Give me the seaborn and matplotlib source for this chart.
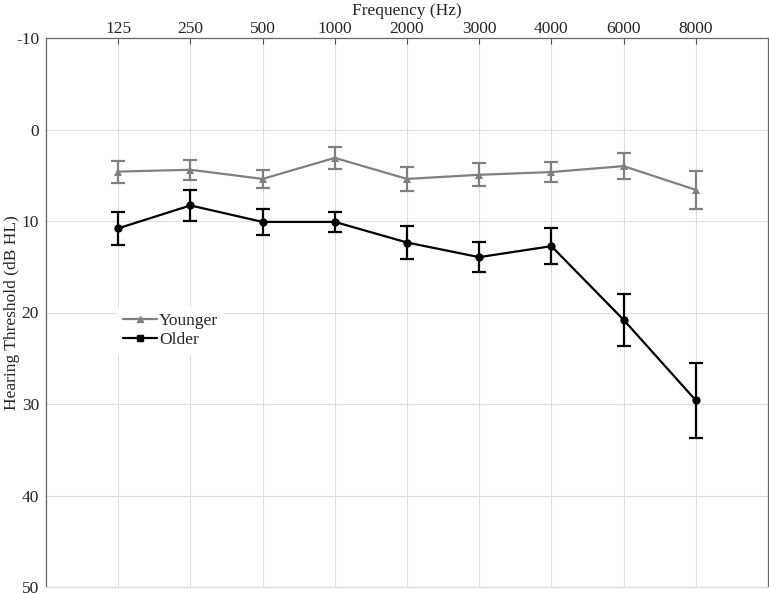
import pandas as pd
import numpy as np
import matplotlib
matplotlib.use("Agg")
import matplotlib.pyplot as plt
import seaborn as sns
from matplotlib.lines import Line2D

# audiogram values
freqs = ["125", "250", "500", "1000", "2000", "3000", "4000", "6000", "8000"]
younger_mean = [4.6, 4.4, 5.4, 3.1, 5.4, 4.95, 4.65, 4.0, 6.6]
younger_err = [1.2, 1.1, 1.0, 1.2, 1.35, 1.25, 1.1, 1.4, 2.1]
older_mean = [10.8, 8.3, 10.1, 10.1, 12.35, 13.95, 12.75, 20.8, 29.6]
older_err = [1.8, 1.65, 1.4, 1.05, 1.75, 1.65, 1.95, 2.85, 4.1]

sns.set_style("white")
plt.rcParams['font.family'] = ['Liberation Serif', 'DejaVu Serif']
plt.rcParams['axes.unicode_minus'] = False

df = pd.DataFrame({
    "freq": freqs * 2,
    "thr": younger_mean + older_mean,
    "err": younger_err + older_err,
    "group": ["Younger"] * len(freqs) + ["Older"] * len(freqs),
})

fig = plt.figure(figsize=(7.69, 5.93), dpi=100)
ax = fig.add_axes([46 / 769, 6 / 593, 722 / 769, 549 / 593])

colors = {"Younger": "#808080", "Older": "#000000"}
markers = {"Younger": "^", "Older": "o"}

sns.lineplot(data=df, x="freq", y="thr", hue="group", palette=colors,
             style="group", markers=markers, dashes=False, markersize=6,
             markeredgewidth=0, linewidth=1.6, sort=False, legend=False, ax=ax)

xpos = np.arange(len(freqs))
for g, m, e in [("Younger", younger_mean, younger_err), ("Older", older_mean, older_err)]:
    ax.errorbar(xpos, m, yerr=e, fmt="none", ecolor=colors[g], elinewidth=1.6,
                capsize=5, capthick=1.6, zorder=3)

fs = 12.5
ax.set_xlim(-1, 9)
ax.set_ylim(50, -10)
ax.set_yticks(range(-10, 51, 10))
ax.set_xticks(xpos)
ax.set_xticklabels(freqs)
ax.xaxis.tick_top()
ax.xaxis.set_label_position("top")
ax.set_xlabel("Frequency (Hz)", fontsize=fs, labelpad=4)
ax.set_ylabel("Hearing Threshold (dB HL)", fontsize=fs)
ax.yaxis.set_label_coords(-0.036, 0.5)
ax.tick_params(axis="both", labelsize=fs, length=4, color="#555555", pad=1)
ax.tick_params(axis="x", direction="in")
ax.grid(True, color="#dddddd", linewidth=0.8)
for s in ax.spines.values():
    s.set_color("#666666")
    s.set_linewidth(0.9)
ax.spines["bottom"].set_color("#dddddd")

handles = [Line2D([], [], color="#808080", marker="^", markersize=4, linewidth=1.6, label="Younger"),
           Line2D([], [], color="#000000", marker="s", markersize=4, linewidth=1.6, label="Older")]
leg = ax.legend(handles=handles, loc="upper left", bbox_to_anchor=(0.087, 0.525),
                frameon=True, fontsize=fs, handlelength=2.0, handletextpad=0.1,
                borderpad=0.3, labelspacing=0.2)
leg.get_frame().set_edgecolor("white")
leg.get_frame().set_facecolor("white")
leg.get_frame().set_alpha(1)

fig.savefig("out.png", dpi=100)
